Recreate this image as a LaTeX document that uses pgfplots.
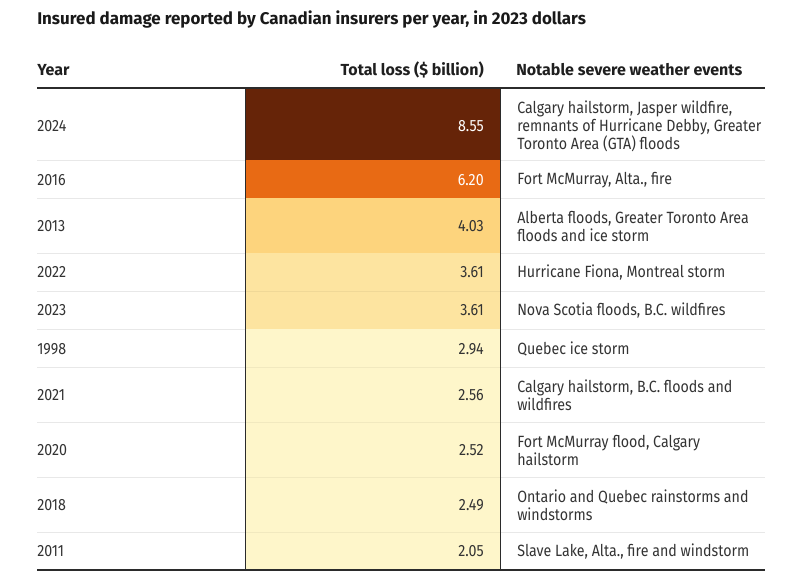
\documentclass[border=0pt]{standalone}
\usepackage{pgfplots}
\pgfplotsset{compat=1.18}
\usepackage{pgfplotstable}
\usepackage{fontspec}
\setmainfont{Fira Sans}[FakeStretch=0.875]
\newfontfamily\headfont{Fira Sans}
\definecolor{txt}{HTML}{333333}
\definecolor{sep}{HTML}{E8E8E8}
\definecolor{rule}{HTML}{2B2B2B}

% colour cells of the "Total loss" column: x, y (pixel layout), c = colour class
\pgfplotstableread{
x y c
245 88 0
500 88 0
500 160 0
245 160 0
245 160 1
500 160 1
500 198 1
245 198 1
245 198 2
500 198 2
500 253 2
245 253 2
245 253 3
500 253 3
500 291 3
245 291 3
245 291 3
500 291 3
500 329 3
245 329 3
245 329 4
500 329 4
500 367 4
245 367 4
245 367 4
500 367 4
500 422 4
245 422 4
245 422 4
500 422 4
500 477 4
245 477 4
245 477 4
500 477 4
500 532 4
245 532 4
245 532 4
500 532 4
500 570 4
245 570 4
}\cells

\begin{document}
\begin{tikzpicture}
\begin{axis}[
  scale only axis, width=592.5pt, height=437.25pt,
  xmin=0, xmax=790, ymin=0, ymax=583, y dir=reverse,
  hide axis, clip=false,
  colormap={loss}{rgb255=(102,36,8) rgb255=(232,106,20) rgb255=(253,212,125) rgb255=(253,228,160) rgb255=(254,246,202)},
  colormap access=direct,
]
\path (axis cs:0,0) rectangle (axis cs:790,583);
% row separators
\pgfplotsinvokeforeach{160,198,253,291,329,367,422,477,532}{
  \draw[sep, line width=0.75pt] (axis cs:37,#1) -- (axis cs:765,#1);
}
\addplot[patch, patch type=rectangle, shader=flat corner, point meta=explicit] table[meta=c] {\cells};
\pgfplotsinvokeforeach{291,367,422,477,532}{
  \draw[black, opacity=0.05, line width=0.75pt] (axis cs:245,#1) -- (axis cs:500,#1);
}
% rules
\draw[rule, line width=0.75pt] (axis cs:245,88) -- (axis cs:245,570);
\draw[rule, line width=0.75pt] (axis cs:500,88) -- (axis cs:500,570);
\draw[rule, line width=1.5pt] (axis cs:37,88) -- (axis cs:765,88);
\draw[rule, line width=0.9pt] (axis cs:37,570) -- (axis cs:765,570);

% title and header
\node[anchor=west, inner sep=0, text=black!90, font=\headfont\fontsize{12.7}{15}\selectfont\bfseries] at (axis cs:37,20) {Insured damage reported by Canadian insurers per year, in 2023 dollars};
\tikzset{hd/.style={inner sep=0, text=black!88, font=\headfont\fontsize{12}{14}\selectfont\bfseries}}
\node[hd, anchor=west] at (axis cs:37,70) {Year};
\node[hd, anchor=east] at (axis cs:484,70) {Total loss (\$ billion)};
\node[hd, anchor=west] at (axis cs:516,70) {Notable severe weather events};

\tikzset{bd/.style={inner sep=0, text=txt, font=\fontsize{12.2}{13.5}\selectfont, align=left}}
% years
\node[bd, anchor=west] at (axis cs:37,126) {2024};
\node[bd, anchor=west] at (axis cs:37,180) {2016};
\node[bd, anchor=west] at (axis cs:37,226) {2013};
\node[bd, anchor=west] at (axis cs:37,272) {2022};
\node[bd, anchor=west] at (axis cs:37,310) {2023};
\node[bd, anchor=west] at (axis cs:37,349) {1998};
\node[bd, anchor=west] at (axis cs:37,395) {2021};
\node[bd, anchor=west] at (axis cs:37,450) {2020};
\node[bd, anchor=west] at (axis cs:37,505) {2018};
\node[bd, anchor=west] at (axis cs:37,551) {2011};
% values
\node[bd, anchor=east, text=white] at (axis cs:484,126) {8.55};
\node[bd, anchor=east, text=white] at (axis cs:484,180) {6.20};
\node[bd, anchor=east] at (axis cs:484,226) {4.03};
\node[bd, anchor=east] at (axis cs:484,272) {3.61};
\node[bd, anchor=east] at (axis cs:484,310) {3.61};
\node[bd, anchor=east] at (axis cs:484,349) {2.94};
\node[bd, anchor=east] at (axis cs:484,395) {2.56};
\node[bd, anchor=east] at (axis cs:484,450) {2.52};
\node[bd, anchor=east] at (axis cs:484,505) {2.49};
\node[bd, anchor=east] at (axis cs:484,551) {2.05};
% events
\node[bd, anchor=west] at (axis cs:517,126) {Calgary hailstorm, Jasper wildfire,\\remnants of Hurricane Debby, Greater\\Toronto Area (GTA) floods};
\node[bd, anchor=west] at (axis cs:517,180) {Fort McMurray, Alta., fire};
\node[bd, anchor=west] at (axis cs:517,226) {Alberta floods, Greater Toronto Area\\floods and ice storm};
\node[bd, anchor=west] at (axis cs:517,272) {Hurricane Fiona, Montreal storm};
\node[bd, anchor=west] at (axis cs:517,310) {Nova Scotia floods, B.C. wildfires};
\node[bd, anchor=west] at (axis cs:517,349) {Quebec ice storm};
\node[bd, anchor=west] at (axis cs:517,395) {Calgary hailstorm, B.C. floods and\\wildfires};
\node[bd, anchor=west] at (axis cs:517,450) {Fort McMurray flood, Calgary\\hailstorm};
\node[bd, anchor=west] at (axis cs:517,505) {Ontario and Quebec rainstorms and\\windstorms};
\node[bd, anchor=west] at (axis cs:517,551) {Slave Lake, Alta., fire and windstorm};
\end{axis}
\end{tikzpicture}
\end{document}
